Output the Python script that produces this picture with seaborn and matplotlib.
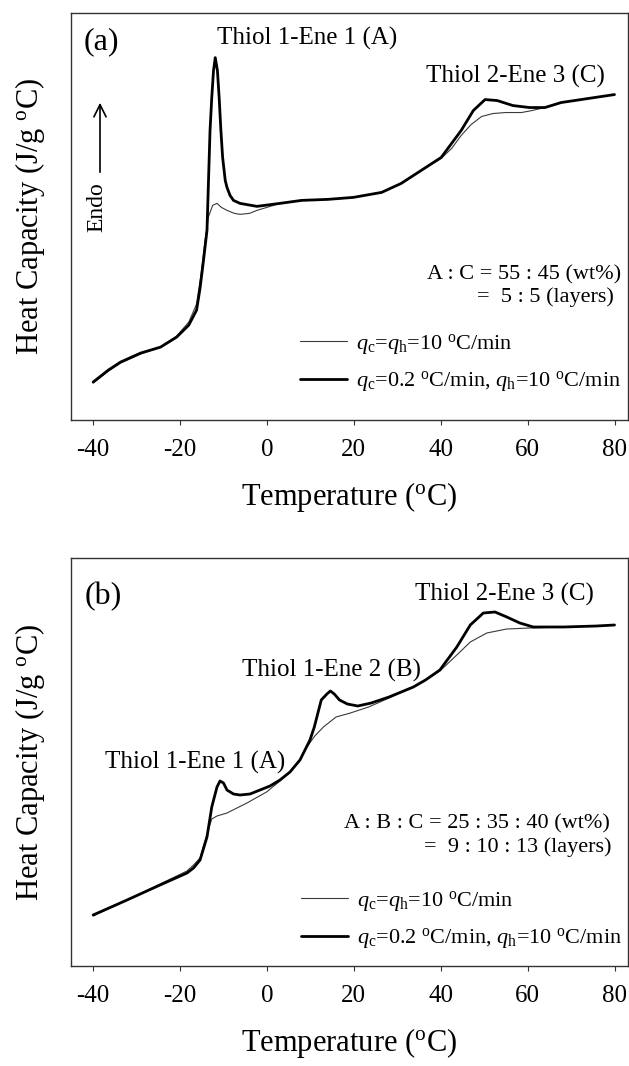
import numpy as np
import pandas as pd
import matplotlib
matplotlib.use("Agg")
import matplotlib.pyplot as plt
import seaborn as sns

# ---------------- data ----------------
X_TICKS = [-40, -20, 0, 20, 40, 60, 80]
SERIES_LABELS = [r"$q_{\rm c}$=$q_{\rm h}$=10 $^{\rm o}$C/min",
                 r"$q_{\rm c}$=0.2 $^{\rm o}$C/min, $q_{\rm h}$=10 $^{\rm o}$C/min"]

# panel (a): A : C = 55 : 45
T_a_fast = [-40, -36.5, -33.7, -29.1, -24.5, -20.8, -18.0, -16.2, -15.2, -14.3, -13.5,
            -12.5, -11.5, -10.5, -9.2, -7.5, -6.2, -4.0, -2.3, 0.0, 3.0, 8.0, 14.0, 19.9,
            26.4, 30.9, 35.5, 40.1, 42.5, 44.7, 47.0, 49.4, 52.0, 55.0, 58.6, 61.0, 64.0,
            67.7, 72.3, 80.0]
cp_a_fast = [0.37, 0.49, 0.57, 0.66, 0.73, 0.84, 0.98, 1.16, 1.45, 1.78, 2.03,
             2.15, 2.17, 2.13, 2.10, 2.07, 2.06, 2.07, 2.10, 2.13, 2.17, 2.20, 2.21, 2.23,
             2.28, 2.37, 2.50, 2.62, 2.72, 2.85, 2.96, 3.04, 3.07, 3.08, 3.08, 3.10, 3.13,
             3.18, 3.21, 3.26]
T_a_slow = [-40, -36.5, -33.7, -29.1, -24.5, -20.8, -18.0, -16.2, -15.4, -14.6, -13.8,
            -13.1, -12.7, -12.3, -11.9, -11.4, -11.0, -10.6, -10.2, -9.6, -9.2, -8.5, -7.7,
            -6.2, -2.3, 3.0, 8.0, 14.0, 19.9, 26.4, 30.9, 35.5, 40.1, 44.7, 47.5, 50.2,
            53.0, 56.6, 60.4, 64.0, 67.7, 72.3, 80.0]
cp_a_slow = [0.38, 0.50, 0.58, 0.67, 0.73, 0.83, 0.95, 1.10, 1.32, 1.60, 1.90,
             2.90, 3.23, 3.50, 3.63, 3.50, 3.23, 2.90, 2.63, 2.40, 2.33, 2.25, 2.20,
             2.17, 2.14, 2.17, 2.20, 2.21, 2.23, 2.28, 2.37, 2.50, 2.63, 2.90, 3.10, 3.21,
             3.20, 3.15, 3.13, 3.13, 3.18, 3.21, 3.26]

# panel (b): A : B : C = 25 : 35 : 40
T_b_fast = [-40, -32.2, -24.6, -18.4, -16.9, -15.4, -13.8, -12.7, -11.5, -9.2, -4.6,
            -0.1, 3.0, 5.3, 7.6, 9.2, 11.0, 13.0, 15.9, 19.2, 23.4, 28.1, 33.7, 36.5,
            39.8, 43.7, 46.8, 50.6, 55.2, 60.5, 68.2, 75.9, 80.0]
cp_b_fast = [0.50, 0.66, 0.82, 0.95, 1.01, 1.08, 1.32, 1.47, 1.50, 1.53, 1.63,
             1.74, 1.85, 1.94, 2.06, 2.19, 2.30, 2.39, 2.49, 2.53, 2.59, 2.68, 2.79, 2.86,
             2.95, 3.11, 3.24, 3.33, 3.37, 3.38, 3.39, 3.40, 3.41]
T_b_slow = [-40, -32.2, -24.6, -18.4, -16.9, -15.4, -13.8, -12.7, -11.5, -10.8, -10.0,
            -9.2, -7.7, -6.2, -3.9, -1.6, 0.7, 3.0, 5.3, 7.6, 9.9, 10.9, 12.5, 13.8, 14.6,
            15.5, 16.7, 18.5, 20.9, 24.0, 28.1, 33.7, 36.5, 39.8, 43.7, 46.8, 49.8, 52.5,
            55.2, 58.2, 61.3, 68.2, 75.9, 80.0]
cp_b_slow = [0.51, 0.66, 0.81, 0.93, 0.98, 1.06, 1.29, 1.59, 1.79, 1.85, 1.83,
             1.76, 1.72, 1.71, 1.72, 1.76, 1.80, 1.86, 1.94, 2.06, 2.26, 2.39, 2.66, 2.72, 2.75,
             2.72, 2.66, 2.62, 2.60, 2.63, 2.69, 2.79, 2.86, 2.96, 3.19, 3.41, 3.53, 3.54,
             3.49, 3.43, 3.39, 3.39, 3.40, 3.41]

# ---------------- style ----------------
sns.set_theme(style="ticks")
plt.rcParams["font.family"] = ["Liberation Serif", "DejaVu Serif"]
plt.rcParams["mathtext.fontset"] = "custom"
plt.rcParams["mathtext.rm"] = "Liberation Serif"
plt.rcParams["mathtext.it"] = "Liberation Serif:italic"
plt.rcParams["mathtext.default"] = "it"
plt.rcParams["text.color"] = "black"
plt.rcParams["axes.labelcolor"] = "black"
plt.rcParams["xtick.labelcolor"] = "black"

W, H = 629, 1066
fig = plt.figure(figsize=(W / 100, H / 100), dpi=100)
fig.patch.set_facecolor("white")


def add_axes_px(left, top, right, bottom):
    return fig.add_axes([left / W, 1 - bottom / H, (right - left) / W, (bottom - top) / H])


def ftext(x, y, s, **kw):
    fig.text(x / W, 1 - y / H, s, color="black", **kw)


ax_a = add_axes_px(71, 12.7, 628, 420)
ax_b = add_axes_px(71, 558, 628, 966)

THIN = dict(color="#3a3a3a", linewidth=0.8)
THICK = dict(color="black", linewidth=2.0)

for ax, (Tf, cf, Ts, cs) in [(ax_a, (T_a_fast, cp_a_fast, T_a_slow, cp_a_slow)),
                             (ax_b, (T_b_fast, cp_b_fast, T_b_slow, cp_b_slow))]:
    df_f = pd.DataFrame({"T": Tf, "cp": cf})
    df_s = pd.DataFrame({"T": Ts, "cp": cs})
    sns.lineplot(data=df_f, x="T", y="cp", ax=ax, label=SERIES_LABELS[0], **THIN)
    sns.lineplot(data=df_s, x="T", y="cp", ax=ax, label=SERIES_LABELS[1], **THICK)
    ax.set_xlim(-45.1, 83.1)
    ax.set_ylim(0, 4.08)
    ax.set_xticks(X_TICKS)
    ax.set_xticklabels([str(t) for t in X_TICKS])
    ax.set_yticks([])
    for sp in ax.spines.values():
        sp.set_visible(True)
        sp.set_color("#333333")
        sp.set_linewidth(1.0)
    ax.tick_params(axis="x", direction="out", length=3.6, width=0.8, color="#333333",
                   labelsize=18, pad=10, labelcolor="black")
    ax.set_xlabel(r"Temperature ($^{\rm o}$C)", fontsize=22, labelpad=14, color="black")
    ax.set_ylabel(r"Heat Capacity (J/g $^{\rm o}$C)", fontsize=22, labelpad=17, color="black")
    ax.set_facecolor("white")

LEG = dict(loc="upper left", frameon=False, fontsize=16, handlelength=2.1,
           handletextpad=0.4, labelspacing=0.56, borderpad=0, borderaxespad=0,
           labelcolor="black")
ax_a.legend(bbox_to_anchor=((300 - 71) / 557, (420 - 332) / 407.3), **LEG)
ax_b.legend(bbox_to_anchor=((301 - 71) / 557, (966 - 889) / 408), **LEG)

# ---------------- annotations ----------------
ftext(101, 42, "(a)", fontsize=23, ha="center", va="center")
ftext(307, 38, "Thiol 1-Ene 1 (A)", fontsize=18, ha="center", va="center")
ftext(515, 76, "Thiol 2-Ene 3 (C)", fontsize=18, ha="center", va="center")
ftext(621, 275, "A : C = 55 : 45 (wt%)", fontsize=16, ha="right", va="center")
ftext(614, 297, "=  5 : 5 (layers)", fontsize=16, ha="right", va="center")
ftext(97, 207, "Endo", fontsize=17, ha="center", va="center", rotation=90)
ax_a.annotate("", xy=(100, H - 100), xytext=(100, H - 175),
              xycoords="figure pixels", textcoords="figure pixels",
              arrowprops=dict(arrowstyle="->", lw=1.2, color="black", mutation_scale=22))

ftext(103, 597, "(b)", fontsize=23, ha="center", va="center")
ftext(504, 594, "Thiol 2-Ene 3 (C)", fontsize=18, ha="center", va="center")
ftext(332, 670, "Thiol 1-Ene 2 (B)", fontsize=18, ha="center", va="center")
ftext(195, 762, "Thiol 1-Ene 1 (A)", fontsize=18, ha="center", va="center")
ftext(610, 824, "A : B : C = 25 : 35 : 40 (wt%)", fontsize=16, ha="right", va="center")
ftext(612, 847, "=  9 : 10 : 13 (layers)", fontsize=16, ha="right", va="center")

fig.savefig("out.png", dpi=100, facecolor="white")
